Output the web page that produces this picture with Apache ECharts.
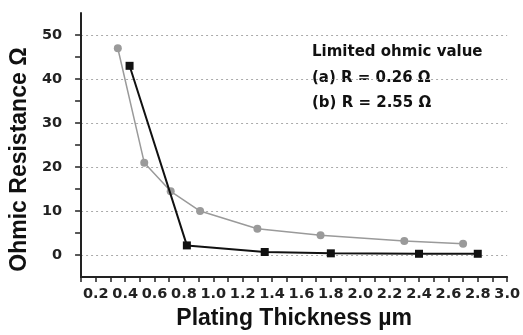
<!DOCTYPE html>
<html>
<head>
<meta charset="utf-8">
<script src="https://cdn.jsdelivr.net/npm/echarts@6/dist/echarts.min.js"></script>
<style>
  html, body { margin: 0; padding: 0; background: #fff; }
  #chart { width: 523px; height: 335px; }
</style>
</head>
<body>
<div id="chart"></div>
<script>
// values
const seriesA = [[0.43, 43], [0.82, 2.2], [1.35, 0.7], [1.8, 0.4], [2.4, 0.3], [2.8, 0.3]]
const seriesB = [[0.35, 47], [0.53, 21], [0.71, 14.5], [0.91, 10], [1.3, 6], [1.73, 4.5], [2.3, 3.2], [2.7, 2.6]]
const curveLabels = [[0.96, 4.2, '(a)'], [1.545, 8, '(b)']]
const xLabels = [0.2, 0.4, 0.6, 0.8, 1.0, 1.2, 1.4, 1.6, 1.8, 2.0, 2.2, 2.4, 2.6, 2.8, 3.0]
const xTicks = [0.1, 0.2, 0.3, 0.4, 0.5, 0.6, 0.7, 0.8, 0.9, 1.0, 1.1, 1.2, 1.3, 1.4, 1.5, 1.6, 1.7, 1.8, 1.9, 2.0, 2.1, 2.2, 2.3, 2.4, 2.5, 2.6, 2.7, 2.8, 2.9, 3.0]
const yLabels = [0, 10, 20, 30, 40, 50]
const yTicks = [0, 5, 10, 15, 20, 25, 30, 35, 40, 45, 50]
const noteLines = ['Limited ohmic value', '(a) R = 0.26 Ω', '(b) R = 2.55 Ω']

const tickFont = { fontFamily: 'DejaVu Sans', fontWeight: 'bold', fontSize: 14.5, color: '#222' }
const titleFont = { fontFamily: 'Liberation Sans', fontWeight: 'bold', fontSize: 23, color: '#111' }

const chart = echarts.init(document.getElementById('chart'))
chart.setOption({
  animation: false,
  backgroundColor: '#fff',
  grid: { left: 77, right: 15, top: 13, bottom: 57 },
  xAxis: {
    type: 'value', min: 0.1, max: 3.0,
    name: 'Plating Thickness µm', nameLocation: 'middle', nameGap: 27,
    nameTextStyle: titleFont,
    axisLine: { onZero: false, lineStyle: { color: '#222', width: 2 } },
    axisTick: { customValues: xTicks, length: 5, lineStyle: { color: '#222', width: 1.5 } },
    axisLabel: { customValues: xLabels, margin: 10, formatter: v => v.toFixed(1), ...tickFont },
    splitLine: { show: false }
  },
  yAxis: [{
    type: 'value', min: -5, max: 55,
    name: 'Ohmic Resistance Ω', nameLocation: 'middle', nameGap: 43,
    nameTextStyle: { ...titleFont, padding: [0, 29, 0, 0] },
    axisLine: { show: true, onZero: false, lineStyle: { color: '#222', width: 2 } },
    axisTick: { customValues: yTicks, length: 6, lineStyle: { color: '#222', width: 1.5 } },
    axisLabel: { customValues: yLabels, margin: 19, ...tickFont },
    splitLine: { show: false }
  }, {
    type: 'value', min: -5, max: 55, position: 'left',
    axisLine: { show: false, onZero: false }, axisLabel: { show: false },
    axisTick: { show: false, customValues: yLabels },
    splitLine: { show: true, lineStyle: { color: '#aaa', type: [2, 3], width: 1 } }
  }],
  series: [
    {
      type: 'line', data: seriesB, symbol: 'circle', symbolSize: 8,
      lineStyle: { color: '#9a9a9a', width: 1.5 }, itemStyle: { color: '#9a9a9a' }, z: 3
    },
    {
      type: 'line', data: seriesA, symbol: 'rect', symbolSize: 8,
      lineStyle: { color: '#111', width: 2 }, itemStyle: { color: '#111' }, z: 4
    },
    {
      type: 'scatter', symbol: 'none', data: curveLabels, z: 5,
      label: {
        show: true, position: 'inside', formatter: p => p.data[2],
        fontFamily: 'DejaVu Sans', fontSize: 15, color: '#333'
      }
    }
  ],
  graphic: noteLines.map((t, i) => ({
    type: 'text', left: 312, top: 45 + i * 25.5,
    style: { text: t, fontFamily: 'DejaVu Sans', fontWeight: 'bold', fontSize: 15, fill: '#111' }
  }))
})
</script>
</body>
</html>
